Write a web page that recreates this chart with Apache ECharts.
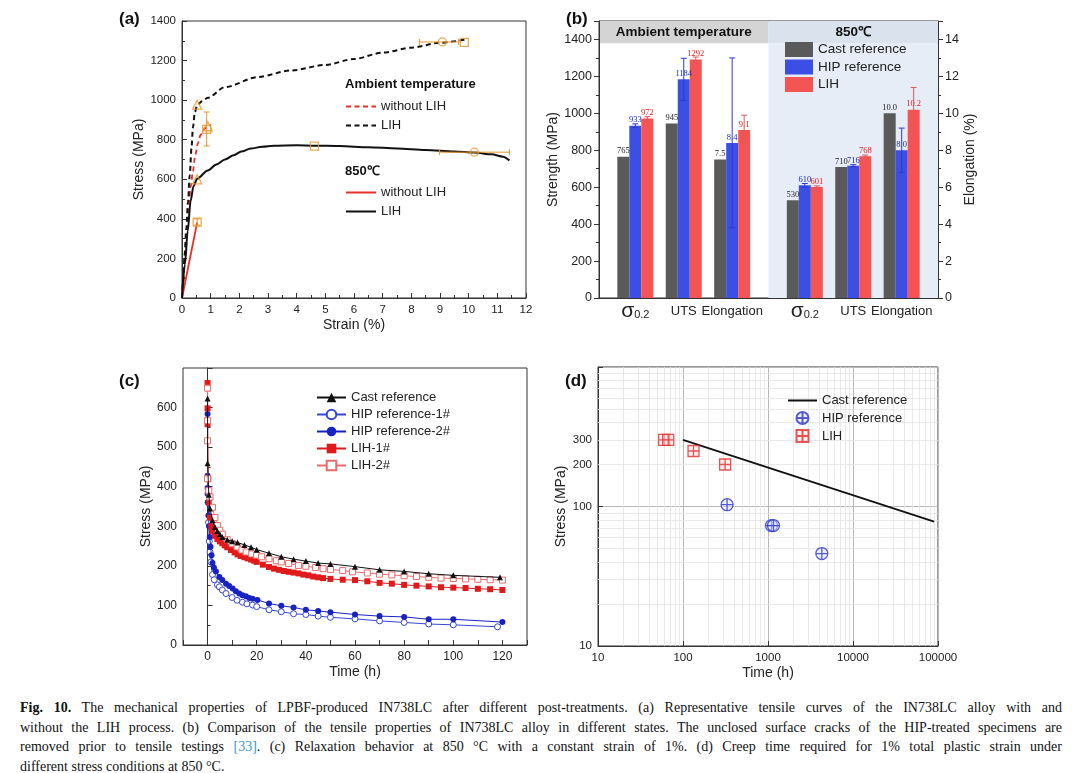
<!DOCTYPE html>
<html>
<head>
<meta charset="utf-8">
<script src="https://cdn.jsdelivr.net/npm/echarts@6/dist/echarts.min.js"></script>
<style>
  body { margin: 0; background: #fff; }
  #chart { width: 1080px; height: 690px; }
  #cap { position: absolute; left: 20px; top: 698px; width: 1042px; font-family: 'Liberation Serif', serif; font-size: 14px; line-height: 19.7px; color: #111; }
  #cap div { text-align: justify; text-align-last: justify; white-space: nowrap; }
  #cap div.last { text-align-last: left; }
  #cap a { color: #3a9ad9; text-decoration: none; }
</style>
</head>
<body>
<div id="chart"></div>
<div id="cap">
  <div><b>Fig. 10.</b> The mechanical properties of LPBF-produced IN738LC after different post-treatments. (a) Representative tensile curves of the IN738LC alloy with and</div>
  <div>without the LIH process. (b) Comparison of the tensile properties of IN738LC alloy in different states. The unclosed surface cracks of the HIP-treated specimens are</div>
  <div>removed prior to tensile testings <a>[33]</a>. (c) Relaxation behavior at 850 °C with a constant strain of 1%. (d) Creep time required for 1% total plastic strain under</div>
  <div class="last">different stress conditions at 850 °C.</div>
</div>
<script>
// ---------- (a) tensile curves [strain %, stress MPa]
var aRtNoLih = [[0, 0], [0.1, 180], [0.2, 370], [0.3, 560], [0.38, 640], [0.46, 720], [0.55, 780], [0.65, 825], [0.8, 858], [1.0, 878]];
var aRtLih = [[0, 0], [0.04, 84], [0.09, 218], [0.15, 352], [0.21, 487], [0.27, 621], [0.33, 755], [0.38, 860], [0.45, 940], [0.53, 975], [0.7, 995], [0.9, 1012], [1.5, 1066], [2.65, 1117], [3.8, 1150], [5, 1178], [6, 1208], [7, 1240], [8, 1265], [9, 1290], [9.85, 1305]];
var aHtNoLih = [[0, 0], [0.53, 383]];
var aHtLih = [[0, 0], [0.1, 170], [0.2, 340], [0.3, 490], [0.4, 565], [0.53, 603], [0.9, 645], [1.2, 675], [1.5, 700], [1.8, 722], [2.07, 740], [2.4, 755], [2.8, 765], [3.2, 770], [4, 772], [4.62, 770], [5.5, 768], [6.5, 762], [7.5, 756], [8.5, 748], [9.5, 740], [10.2, 735], [10.8, 726], [11.2, 714], [11.42, 695]];
var aYield = [[0.53, 977], [0.53, 600], [0.9, 868]];
var aUts = [[0.86, 852], [9.85, 1292], [4.62, 768], [0.53, 383]];
var aElong = [[9.08, 1294], [10.2, 737]];
var aErrY = [[0.86, 768, 940], [0.53, 368, 400]];      // [strain, low, high]
var aErrX = [[1294, 8.28, 9.65], [737, 8.98, 11.42]];  // [stress, low, high]

// ---------- (b) tensile properties
var bGroups = ['σ0.2', 'UTS', 'Elongation', 'σ0.2', 'UTS', 'Elongation'];
var bCast = [765, 945, 7.5, 530, 710, 10.0];
var bHip = [933, 1184, 8.4, 610, 716, 8.0];
var bLih = [972, 1292, 9.1, 601, 768, 10.2];
var bHipErr = [[923, 943], [1070, 1298], [3.8, 13.0], [600, 620], [710, 722], [6.8, 9.2]];
var bLihErr = [[962, 982], [1280, 1305], [8.4, 9.9], [595, 607], [762, 774], [9.0, 11.4]];

// ---------- (c) relaxation [time h, stress MPa]
var cCast = [[0, 623], [0, 459], [0.5, 380], [1, 345], [2, 315], [3, 298], [4, 288], [5, 280], [6, 273], [8, 266], [10, 262], [12.2, 259], [15, 253], [17.7, 247], [20, 241], [25, 232], [30, 223], [35, 217], [40, 212], [45, 207], [50, 205], [60, 198], [70, 190], [80, 186], [90, 180], [100, 176], [119, 171]];
var cHip1 = [[0, 420], [0.2, 360], [0.4, 310], [0.7, 262], [1, 235], [1.35, 210], [2, 178], [2.7, 165], [4, 152], [4.8, 147], [6, 139], [7.5, 130], [10, 120], [12, 113], [14.2, 108], [16, 104], [18.3, 101], [20, 97], [25, 89], [30, 84], [35, 79], [40, 77], [45, 73], [50, 70], [60, 66], [70, 61], [80, 57], [90, 53], [100, 51], [118, 46]];
var cHip2 = [[0, 584], [0, 428], [0, 397], [0, 382], [0.2, 361], [0.35, 327], [0.6, 300], [0.9, 273], [1.2, 248], [1.6, 227], [2, 207], [2.6, 195], [3.4, 186], [4.8, 172], [6, 164], [7.5, 155], [8.8, 149], [10.2, 143], [11.5, 136], [12.9, 130], [14.2, 126], [15.6, 123], [17, 119], [18.3, 117], [20.3, 114], [25, 105], [30, 99], [35, 95], [40, 89], [45, 86], [50, 83], [60, 77], [70, 73], [80, 71], [90, 65], [100, 65], [120, 58]];
var cLih1 = [[0, 662], [0, 598], [0, 558], [0.3, 420], [0.6, 360], [1, 322], [1.5, 300], [2, 288], [3, 276], [4, 268], [5, 262], [6, 257], [7, 252], [8, 247], [9.5, 240], [11, 234], [12.2, 229], [13.5, 225], [15, 222], [16.3, 219], [17.7, 216], [19, 213], [20, 210], [22.5, 203], [25, 197], [27, 193], [29, 190], [31, 187], [33, 185], [35, 183], [37, 181], [39, 178], [41, 176], [43, 173], [45, 171], [47, 169], [50, 167], [55, 165], [60, 164], [65, 161], [70, 157], [75, 155], [80, 152], [85, 150], [90, 148], [95, 146], [100, 145], [105, 144], [110, 142], [115, 141], [120, 139]];
var cLih2 = [[0, 649], [0, 567], [0, 516], [0, 420], [0.5, 390], [1, 374], [2, 348], [3, 322], [4, 302], [5, 290], [6, 280], [8, 266], [10, 256], [12, 248], [14, 240], [15.7, 235], [18, 230], [20, 227], [22, 223], [25, 218], [28, 213], [30, 210], [33, 206], [37, 201], [40, 199], [44, 196], [47, 193], [50, 191], [55, 188], [59, 185], [65, 182], [70, 179], [75, 177], [80, 175], [85, 173], [90, 171], [95, 169], [100, 168], [105, 167], [110, 166], [115, 165], [120, 164]];

// ---------- (d) creep [time h, stress MPa]
var dCast = [[100, 300], [90000, 78]];
var dHip = [[330, 103], [1100, 73], [1160, 73], [4300, 46]];
var dLih = [[60, 300], [67, 300], [133, 250], [313, 200]];
var dTimeLabels = [10, 100, 1000, 10000, 100000];
var dStressLabels = [10, 100, 200, 300];

// ---------- helpers
var FONT = 'Liberation Sans';
var ORANGE = '#e8952c';
var slotOf = [1, 3, 5, 8, 10, 12];
var nSlots = 14;
var bCats = [];
for (var i = 0; i < nSlots; i++) bCats.push('');
bGroups.forEach(function (g, i) { bCats[slotOf[i]] = g; });

function slotData(vals, elong) {
  var out = [];
  for (var i = 0; i < nSlots; i++) out.push('-');
  bGroups.forEach(function (g, i) {
    if ((g === 'Elongation') === elong) out[slotOf[i]] = vals[i];
  });
  return out;
}
function slotErr(err, elong) {
  var out = [];
  bGroups.forEach(function (g, i) {
    if ((g === 'Elongation') === elong) out.push([slotOf[i], err[i][0], err[i][1]]);
  });
  return out;
}
function capLines(cx, y1, y2, w, color) {
  return [
    { type: 'line', shape: { x1: cx, y1: y1, x2: cx, y2: y2 }, style: { stroke: color, lineWidth: 1 } },
    { type: 'line', shape: { x1: cx - w, y1: y1, x2: cx + w, y2: y1 }, style: { stroke: color, lineWidth: 1 } },
    { type: 'line', shape: { x1: cx - w, y1: y2, x2: cx + w, y2: y2 }, style: { stroke: color, lineWidth: 1 } }
  ];
}
function plain(v) { return String(v); }

function frameAxis(extra) {
  return Object.assign({
    axisLine: { show: true, lineStyle: { color: '#333', width: 1 } },
    axisTick: { show: true, inside: true, length: 5, lineStyle: { color: '#333' } },
    minorTick: { show: true, splitNumber: 2, length: 3, lineStyle: { color: '#333' } },
    splitLine: { show: false },
    axisLabel: { fontSize: 11.5, color: '#222', margin: 6, fontFamily: FONT, formatter: plain },
    nameLocation: 'middle',
    nameTextStyle: { fontSize: 14, color: '#222', fontFamily: FONT }
  }, extra);
}

var chart = echarts.init(document.getElementById('chart'), null, { renderer: 'canvas' });

var series = [];

// (a)
series.push(
  { type: 'line', name: 'a:without LIH', xAxisIndex: 0, yAxisIndex: 0, data: aRtNoLih, symbol: 'none', smooth: 0.3, smoothMonotone: 'x', lineStyle: { color: '#e8302a', width: 1.8, type: [5, 3.5] }, itemStyle: { color: '#e8302a' } },
  { type: 'line', name: 'a:LIH', xAxisIndex: 0, yAxisIndex: 0, data: aRtLih, symbol: 'none', smooth: 0.3, smoothMonotone: 'x', lineStyle: { color: '#111', width: 2, type: [5, 3.5] }, itemStyle: { color: '#111' } },
  { type: 'line', name: 'h:without LIH', xAxisIndex: 0, yAxisIndex: 0, data: aHtNoLih, symbol: 'none', lineStyle: { color: '#e8302a', width: 1.8 }, itemStyle: { color: '#e8302a' } },
  { type: 'line', name: 'h:LIH', xAxisIndex: 0, yAxisIndex: 0, data: aHtLih, symbol: 'none', smooth: 0.3, smoothMonotone: 'x', lineStyle: { color: '#111', width: 2 }, itemStyle: { color: '#111' } },
  { type: 'scatter', xAxisIndex: 0, yAxisIndex: 0, data: aYield, symbol: 'triangle', symbolSize: 9, itemStyle: { color: 'rgba(255,255,255,0)', borderColor: ORANGE, borderWidth: 1.3 }, z: 4 },
  { type: 'scatter', xAxisIndex: 0, yAxisIndex: 0, data: aUts, symbol: 'rect', symbolSize: 8, itemStyle: { color: 'rgba(255,255,255,0)', borderColor: ORANGE, borderWidth: 1.3 }, z: 4 },
  { type: 'scatter', xAxisIndex: 0, yAxisIndex: 0, data: aElong, symbol: 'circle', symbolSize: 8, itemStyle: { color: 'rgba(255,255,255,0)', borderColor: ORANGE, borderWidth: 1.3 }, z: 4 },
  { type: 'custom', xAxisIndex: 0, yAxisIndex: 0, data: aErrY, z: 4, encode: { x: 0, y: [1, 2] },
    renderItem: function (p, api) {
      var a = api.coord([api.value(0), api.value(2)]), b = api.coord([api.value(0), api.value(1)]);
      return { type: 'group', children: capLines(a[0], a[1], b[1], 3, ORANGE) };
    } },
  { type: 'custom', xAxisIndex: 0, yAxisIndex: 0, data: aErrX, z: 4, encode: { x: [1, 2], y: 0 },
    renderItem: function (p, api) {
      var a = api.coord([api.value(1), api.value(0)]), b = api.coord([api.value(2), api.value(0)]);
      var y = a[1];
      return { type: 'group', children: [
        { type: 'line', shape: { x1: a[0], y1: y, x2: b[0], y2: y }, style: { stroke: ORANGE, lineWidth: 1 } },
        { type: 'line', shape: { x1: a[0], y1: y - 3, x2: a[0], y2: y + 3 }, style: { stroke: ORANGE, lineWidth: 1 } },
        { type: 'line', shape: { x1: b[0], y1: y - 3, x2: b[0], y2: y + 3 }, style: { stroke: ORANGE, lineWidth: 1 } }
      ] };
    } }
);

// (b) background bands
series.push({
  type: 'line', xAxisIndex: 2, yAxisIndex: 1, data: [], z: -1, silent: true,
  markArea: {
    silent: true, z: 0,
    label: { show: true, position: 'inside', fontSize: 13.5, fontWeight: 'bold', color: '#111', fontFamily: FONT },
    data: [
      [{ xAxis: 7, yAxis: 0, itemStyle: { color: '#e7edf6' }, label: { show: false } }, { xAxis: 14, yAxis: 1380 }],
      [{ name: 'Ambient temperature', xAxis: 0, yAxis: 1380, itemStyle: { color: '#d4d4d4' } }, { xAxis: 7, yAxis: 1500 }],
      [{ name: '850℃', xAxis: 7, yAxis: 1380, itemStyle: { color: '#dae2ee' } }, { xAxis: 14, yAxis: 1500 }]
    ]
  }
});

var bDefs = [
  { name: 'Cast reference', vals: bCast, color: '#5a5a5a', label: '#222', err: null, off: -1 },
  { name: 'HIP reference', vals: bHip, color: '#3c4fe4', label: '#1c2db5', err: bHipErr, off: 0, errColor: '#2b3bd0' },
  { name: 'LIH', vals: bLih, color: '#f45454', label: '#e31c1c', err: bLihErr, off: 1, errColor: '#e25858' }
];
var BAR_W = 12;
bDefs.forEach(function (d) {
  [false, true].forEach(function (elong) {
    series.push({
      type: 'bar', name: d.name, xAxisIndex: 1, yAxisIndex: elong ? 2 : 1, stack: d.name,
      barWidth: BAR_W, barGap: '0%', data: slotData(d.vals, elong),
      itemStyle: { color: d.color },
      label: { show: true, position: 'top', distance: 1, fontFamily: 'Liberation Serif', fontSize: 8.5, color: d.label,
        formatter: function (p) { return elong ? Number(p.value).toFixed(1) : p.value; } }
    });
    if (d.err) {
      series.push({
        type: 'custom', xAxisIndex: 1, yAxisIndex: elong ? 2 : 1, data: slotErr(d.err, elong), z: 5,
        encode: { x: 0, y: [1, 2] },
        renderItem: function (p, api) {
          var a = api.coord([api.value(0), api.value(2)]), b = api.coord([api.value(0), api.value(1)]);
          return { type: 'group', children: capLines(a[0] + d.off * BAR_W, a[1], b[1], 3, d.errColor) };
        }
      });
    }
  });
});

// (c)
function cLine(name, data, color, symbol, filled, z) {
  return {
    type: 'line', name: 'c:' + name, xAxisIndex: 3, yAxisIndex: 3, data: data, symbol: symbol, symbolSize: 6, showSymbol: true, z: z,
    lineStyle: { color: color, width: 1 },
    itemStyle: filled ? { color: color } : { color: '#fff', borderColor: color, borderWidth: 1 }
  };
}
series.push(
  cLine('HIP reference-1#', cHip1, '#3646d2', 'circle', false, 2),
  cLine('HIP reference-2#', cHip2, '#1822c2', 'circle', true, 3),
  cLine('LIH-1#', cLih1, '#e01a1a', 'rect', true, 3),
  cLine('LIH-2#', cLih2, '#e86c6c', 'rect', false, 4),
  cLine('Cast reference', cCast, '#111', 'triangle', true, 5)
);

// (d)
var minorX = [], minorY = [];
dTimeLabels.slice(0, -1).forEach(function (d) { for (var k = 2; k <= 9; k++) minorX.push({ xAxis: d * k }); });
[10, 100].forEach(function (d) { for (var k = 2; k <= 9; k++) minorY.push({ yAxis: d * k }); });
series.push(
  { type: 'line', xAxisIndex: 4, yAxisIndex: 4, data: [], z: 1, silent: true,
    markLine: { silent: true, z: 1, symbol: ['none', 'none'], label: { show: false },
      lineStyle: { color: '#e3e3e3', type: 'solid', width: 0.8 }, data: minorX.concat(minorY) } },
  { type: 'line', name: 'd:Cast reference', xAxisIndex: 4, yAxisIndex: 4, data: dCast, symbol: 'none', lineStyle: { color: '#111', width: 1.8 }, itemStyle: { color: '#111' }, z: 3 },
  { type: 'scatter', name: 'd:HIP reference', xAxisIndex: 4, yAxisIndex: 4, data: dHip, symbolSize: 12,
    symbol: 'path://M10,1 A9,9 0 1,1 9.99,1 Z M10,1 L10,19 M1,10 L19,10',
    itemStyle: { color: 'rgba(225,228,255,0.6)', borderColor: '#2a34c8', borderWidth: 1.3 }, z: 4 },
  { type: 'scatter', name: 'd:LIH', xAxisIndex: 4, yAxisIndex: 4, data: dLih, symbolSize: 11,
    symbol: 'path://M1,1 L19,1 L19,19 L1,19 Z M10,1 L10,19 M1,10 L19,10',
    itemStyle: { color: 'rgba(255,225,225,0.6)', borderColor: '#e02c2c', borderWidth: 1.3 }, z: 4 }
);

var legendText = { fontSize: 13, color: '#222', fontFamily: FONT };
function strip(n) { return n.slice(2); }
function lineOnly(n) { return { name: n, itemStyle: { opacity: 0 } }; }

chart.setOption({
  animation: false,
  textStyle: { fontFamily: FONT },
  grid: [
    { left: 182, top: 21, width: 344, height: 277, show: true, borderColor: '#333', borderWidth: 1 },
    { left: 599, top: 21, width: 339, height: 277, show: true, borderColor: '#333', borderWidth: 1 },
    { left: 183, top: 368, width: 344, height: 277, show: true, borderColor: '#333', borderWidth: 1 },
    { left: 598, top: 367, width: 340, height: 279, show: true, borderColor: '#333', borderWidth: 1 }
  ],
  xAxis: [
    frameAxis({ gridIndex: 0, type: 'value', min: 0, max: 12, interval: 1, name: 'Strain (%)', nameGap: 20 }),
    frameAxis({ gridIndex: 1, type: 'category', data: bCats, axisTick: { show: false }, minorTick: { show: false },
      axisLabel: { interval: 0, fontSize: 13, color: '#222', margin: 2, fontFamily: FONT,
        formatter: function (v) { return v === 'σ0.2' ? '{s|σ}{sub|0.2}' : '{t|' + v + '}'; },
        rich: { s: { fontSize: 21, lineHeight: 22, color: '#222', fontFamily: FONT, verticalAlign: 'middle' },
                t: { fontSize: 13, lineHeight: 22, color: '#222', fontFamily: FONT, verticalAlign: 'middle' },
                sub: { fontSize: 11, color: '#222', fontFamily: FONT, verticalAlign: 'middle', padding: [7, 0, 0, 0] } } } }),
    { gridIndex: 1, type: 'value', min: 0, max: 14, show: false },
    frameAxis({ gridIndex: 2, type: 'value', min: -10, max: 130, interval: 10, name: 'Time (h)', nameGap: 20,
      minorTick: { show: false },
      axisLabel: { fontSize: 12, color: '#222', margin: 6, fontFamily: FONT,
        formatter: function (v) { return (v >= 0 && v <= 120 && v % 20 === 0) ? String(v) : ''; } } }),
    frameAxis({ gridIndex: 3, type: 'log', logBase: 10, min: 10, max: 100000, name: 'Time (h)', nameGap: 20,
      minorTick: { show: false },
      splitLine: { show: true, lineStyle: { color: '#b8b8b8', width: 1 } },
      axisLabel: { fontSize: 11.5, color: '#222', margin: 6, fontFamily: FONT, customValues: dTimeLabels, formatter: plain } })
  ],
  yAxis: [
    frameAxis({ gridIndex: 0, type: 'value', min: 0, max: 1400, interval: 200, name: 'Stress (MPa)', nameGap: 28 }),
    frameAxis({ gridIndex: 1, type: 'value', min: 0, max: 1500, interval: 200, name: 'Strength (MPa)', nameGap: 35,
      axisTick: { show: true, inside: false, length: 5, lineStyle: { color: '#333' } },
      axisLabel: { fontSize: 12.5, color: '#222', margin: 7, fontFamily: FONT, formatter: function (v) { return v > 1400 ? '' : String(v); } } }),
    frameAxis({ gridIndex: 1, type: 'value', position: 'right', min: 0, max: 15, interval: 2, name: 'Elongation (%)', nameGap: 24,
      axisTick: { show: true, inside: false, length: 5, lineStyle: { color: '#333' } },
      axisLabel: { fontSize: 12.5, color: '#222', margin: 7, fontFamily: FONT, formatter: function (v) { return v > 14 ? '' : String(v); } } }),
    frameAxis({ gridIndex: 2, type: 'value', min: 0, max: 700, interval: 100, name: 'Stress (MPa)', nameGap: 30,
      axisLabel: { fontSize: 12, color: '#222', margin: 6, fontFamily: FONT, formatter: function (v) { return v >= 700 ? '' : String(v); } } }),
    frameAxis({ gridIndex: 3, type: 'log', logBase: 10, min: 10, max: 1000, name: 'Stress (MPa)', nameGap: 30,
      minorTick: { show: false },
      splitLine: { show: true, lineStyle: { color: '#b8b8b8', width: 1 } },
      axisLabel: { fontSize: 11.5, color: '#222', margin: 6, fontFamily: FONT, customValues: dStressLabels, formatter: plain } })
  ],
  legend: [
    { left: 345, top: 100, padding: 0, orient: 'vertical', itemWidth: 30, itemHeight: 14, itemGap: 6, textStyle: legendText,
      data: [lineOnly('a:without LIH'), lineOnly('a:LIH')], formatter: strip },
    { left: 345, top: 186, padding: 0, orient: 'vertical', itemWidth: 30, itemHeight: 14, itemGap: 6, textStyle: legendText,
      data: [lineOnly('h:without LIH'), lineOnly('h:LIH')], formatter: strip },
    { left: 785, top: 42, padding: 0, orient: 'vertical', itemWidth: 28, itemHeight: 15, itemGap: 2.5, icon: 'rect',
      textStyle: { fontSize: 13.5, color: '#222', fontFamily: FONT }, data: ['Cast reference', 'HIP reference', 'LIH'] },
    { left: 316, top: 391, padding: 0, orient: 'vertical', itemWidth: 29, itemHeight: 12, itemGap: 4, textStyle: legendText,
      data: ['c:Cast reference', 'c:HIP reference-1#', 'c:HIP reference-2#', 'c:LIH-1#', 'c:LIH-2#'], formatter: strip },
    { left: 787, top: 394, padding: 0, orient: 'vertical', itemWidth: 29, itemHeight: 12, itemGap: 4, textStyle: legendText,
      data: [lineOnly('d:Cast reference'), 'd:HIP reference', 'd:LIH'], formatter: strip }
  ],
  graphic: [
    { type: 'text', left: 119, top: 11, style: { text: '(a)', font: 'bold 17px ' + FONT, fill: '#111' } },
    { type: 'text', left: 566, top: 11, style: { text: '(b)', font: 'bold 17px ' + FONT, fill: '#111' } },
    { type: 'text', left: 119, top: 373, style: { text: '(c)', font: 'bold 17px ' + FONT, fill: '#111' } },
    { type: 'text', left: 565, top: 373, style: { text: '(d)', font: 'bold 17px ' + FONT, fill: '#111' } },
    { type: 'text', left: 345, top: 78, style: { text: 'Ambient temperature', font: 'bold 13px ' + FONT, fill: '#111' } },
    { type: 'text', left: 345, top: 165, style: { text: '850℃', font: 'bold 13px ' + FONT, fill: '#111' } }
  ],
  series: series
});
</script>
</body>
</html>
